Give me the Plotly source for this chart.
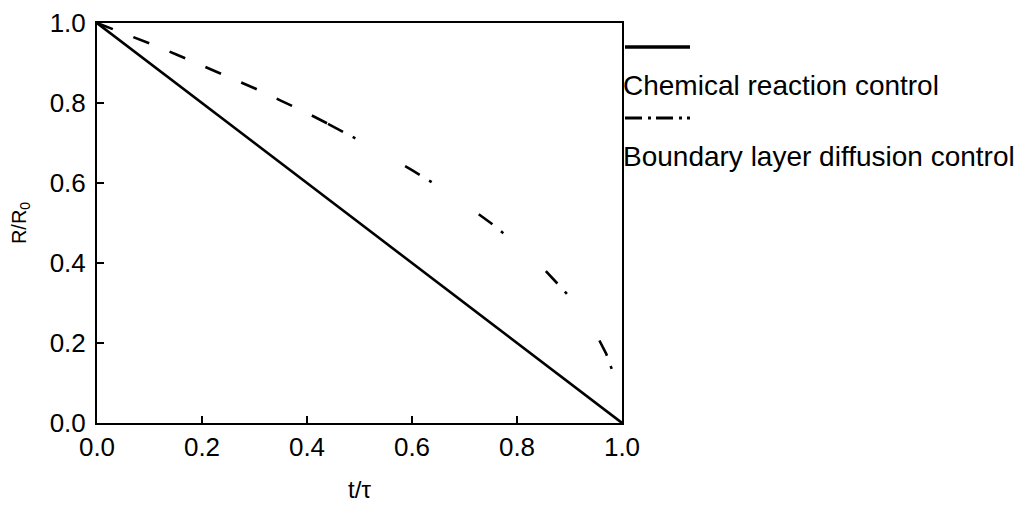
import plotly.graph_objects as go

# Data
t_chem = [0.0, 1.0]
r_chem = [1.0, 0.0]

t_bl_dash = [0.0, 0.05, 0.10, 0.15, 0.20, 0.25, 0.30, 0.35, 0.40, 0.44]
r_bl_dash = [1.0, 0.975, 0.949, 0.922, 0.894, 0.866, 0.837, 0.806, 0.775, 0.748]

t_bl_dd = [0.44, 0.50, 0.55, 0.60, 0.65, 0.70, 0.75, 0.80, 0.85, 0.90, 0.95, 0.97, 0.99, 0.997]
r_bl_dd = [0.748, 0.707, 0.671, 0.632, 0.592, 0.548, 0.500, 0.447, 0.387, 0.316, 0.224, 0.173, 0.100, 0.055]

tick_vals = [0.0, 0.2, 0.4, 0.6, 0.8, 1.0]
legend_labels = ["Chemical reaction control", "Boundary layer diffusion control"]

FONT = "Liberation Sans, Arial, sans-serif"

# The page body adds an 8px offset; compensate so the plot lands where the reference has it
OFF = 8
W, H = 1034 - OFF, 506 - OFF
PL, PT, PW, PH = 97 - OFF, 23 - OFF, 525, 400

fig = go.Figure()
fig.add_trace(go.Scatter(x=t_chem, y=r_chem, mode="lines",
                         line=dict(color="black", width=2.6), showlegend=False))
fig.add_trace(go.Scatter(x=t_bl_dash, y=r_bl_dash, mode="lines",
                         line=dict(color="black", width=2.6, dash="17px,22px"), showlegend=False))
fig.add_trace(go.Scatter(x=t_bl_dd, y=r_bl_dd, mode="lines",
                         line=dict(color="black", width=2.6, dash="17px,11px,3px,57px"), showlegend=False))

axis_common = dict(
    range=[0, 1], tickvals=tick_vals, tickformat=".1f",
    ticks="inside", ticklen=7, tickwidth=1.5, tickcolor="black",
    showline=True, linecolor="black", linewidth=2, mirror=True,
    showgrid=False, zeroline=False, automargin=False,
    tickfont=dict(family=FONT, size=26, color="black"),
)

fig.update_layout(
    width=W, height=H,
    margin=dict(l=PL, r=W - PL - PW, t=PT, b=H - PT - PH),
    paper_bgcolor="white", plot_bgcolor="white",
    font=dict(family=FONT, color="black"),
    xaxis=dict(**axis_common,
               title=dict(text="t/τ", font=dict(family=FONT, size=24), standoff=20)),
    yaxis=dict(**axis_common, ticklabelstandoff=4,
               title=dict(text="R/R<sub>0</sub>", font=dict(family=FONT, size=20), standoff=20)),
)

# Legend drawn to mirror the reference layout (sample line above its label);
# positions given in reference pixels and converted to paper coordinates
def xp(px):
    return (px - 97) / PW
def yp(py):
    return (423 - py) / PH

fig.add_shape(type="line", xref="paper", yref="paper",
              x0=xp(625), x1=xp(690), y0=yp(47), y1=yp(47),
              line=dict(color="black", width=3.5))
fig.add_shape(type="line", xref="paper", yref="paper",
              x0=xp(625), x1=xp(690), y0=yp(118), y1=yp(118),
              line=dict(color="black", width=3, dash="17px,6px,3px,5px"))

for label, ycen in zip(legend_labels, [85, 156]):
    fig.add_annotation(text=label, xref="paper", yref="paper",
                       x=xp(621), y=yp(ycen), xanchor="left", yanchor="middle",
                       showarrow=False, font=dict(family=FONT, size=28, color="black"))

fig.write_html("out.html")
